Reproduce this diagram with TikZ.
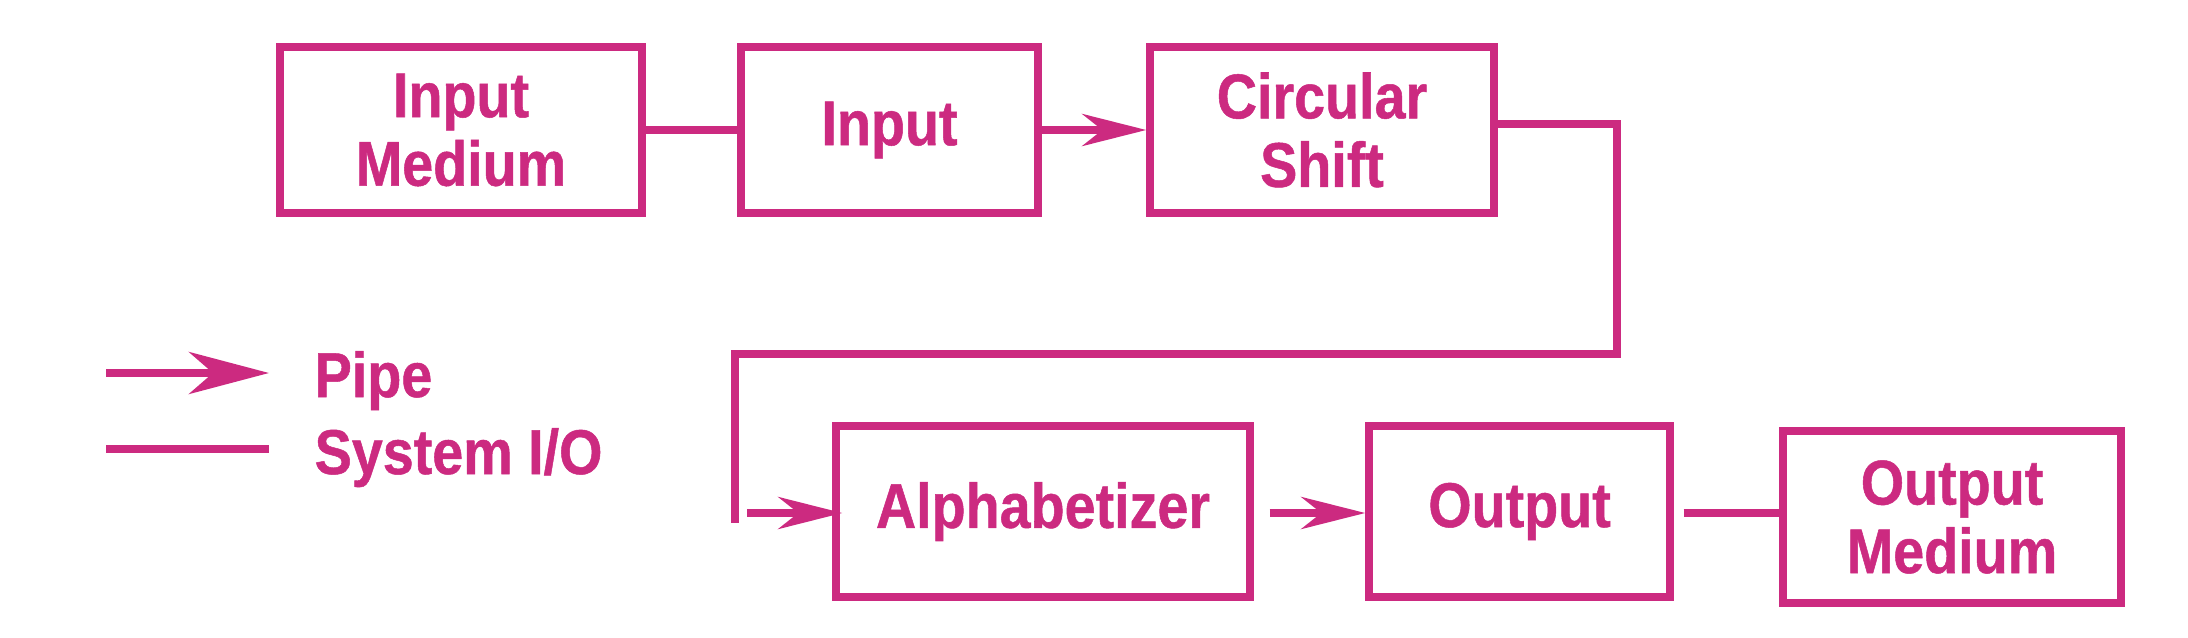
\documentclass[tikz,border=0pt]{standalone}
\usepackage{fontspec}
\setmainfont{Liberation Sans}[FakeStretch=0.88,BoldFeatures={FakeBold=0.8}]
\usetikzlibrary{arrows.meta}
\definecolor{kwicpink}{RGB}{204,42,128}

\begin{document}
\begin{tikzpicture}[
        box/.style={draw=kwicpink,line width=2.1pt,text=kwicpink,align=center,inner sep=0pt,
                    font=\fontsize{18}{19.5}\selectfont\bfseries},
        legendtext/.style={text=kwicpink,inner sep=0pt,font=\fontsize{18}{19.5}\selectfont\bfseries},
        sysio/.style={draw=kwicpink,line width=2.1pt},
        pipe/.style={sysio,-{Stealth[length=6.4mm,width=3.2mm,inset=2mm]}},
        bigpipe/.style={sysio,-{Stealth[length=8mm,width=4.2mm,inset=2.4mm]}}]
                \useasboundingbox (0,0) rectangle (21.88,-6.38);

                % filters of the upper row
                \node[box,minimum width=3.62cm,minimum height=1.66cm] (inmed) at (4.61,-1.30) {Input\\Medium};
                \node[box,minimum width=2.97cm,minimum height=1.66cm] (input) at (8.895,-1.30) {Input};
                \node[box,minimum width=3.44cm,minimum height=1.66cm] (cshift) at (13.22,-1.30) {Circular\\Shift};

                % filters of the lower row
                \node[box,minimum width=4.14cm,minimum height=1.71cm] (alpha) at (10.43,-5.115) {Alphabetizer};
                \node[box,minimum width=3.01cm,minimum height=1.71cm] (output) at (15.195,-5.115) {Output};
                \node[box,minimum width=3.38cm,minimum height=1.72cm] (outmed) at (19.52,-5.17) {Output\\Medium};

                \draw[sysio] (inmed) -- (input);
                \draw[pipe] (input) -- (cshift);

                % long way round from the top row down to the bottom row
                \coordinate (turn) at (16.17,-3.54);
                \coordinate (drop) at (7.35,-5.23);
                \coordinate (feed) at (7.47,-5.13);
                \draw[sysio] ([yshift=0.06cm]cshift.east) -| (turn) -| (drop);
                \draw[pipe,shorten >=-0.1cm] (feed) -- (alpha.west |- feed);

                \draw[pipe,shorten <=0.16cm] (alpha.east |- feed) -- (output.west |- feed);
                \draw[sysio,shorten <=0.1cm] (output.east |- feed) -- (outmed.west |- feed);

                % legend
                \coordinate (pipeA) at (1.06,-3.73);
                \coordinate (pipeB) at (2.69,-3.73);
                \coordinate (ioA) at (1.06,-4.49);
                \coordinate (ioB) at (2.69,-4.49);
                \draw[bigpipe] (pipeA) -- (pipeB);
                \draw[sysio] (ioA) -- (ioB);
                \node[legendtext,anchor=base west] (pipetext) at (3.14,-3.97) {Pipe};
                \node[legendtext,anchor=base west] (iotext) at (3.14,-4.74) {System I/O};
\end{tikzpicture}
\end{document}
